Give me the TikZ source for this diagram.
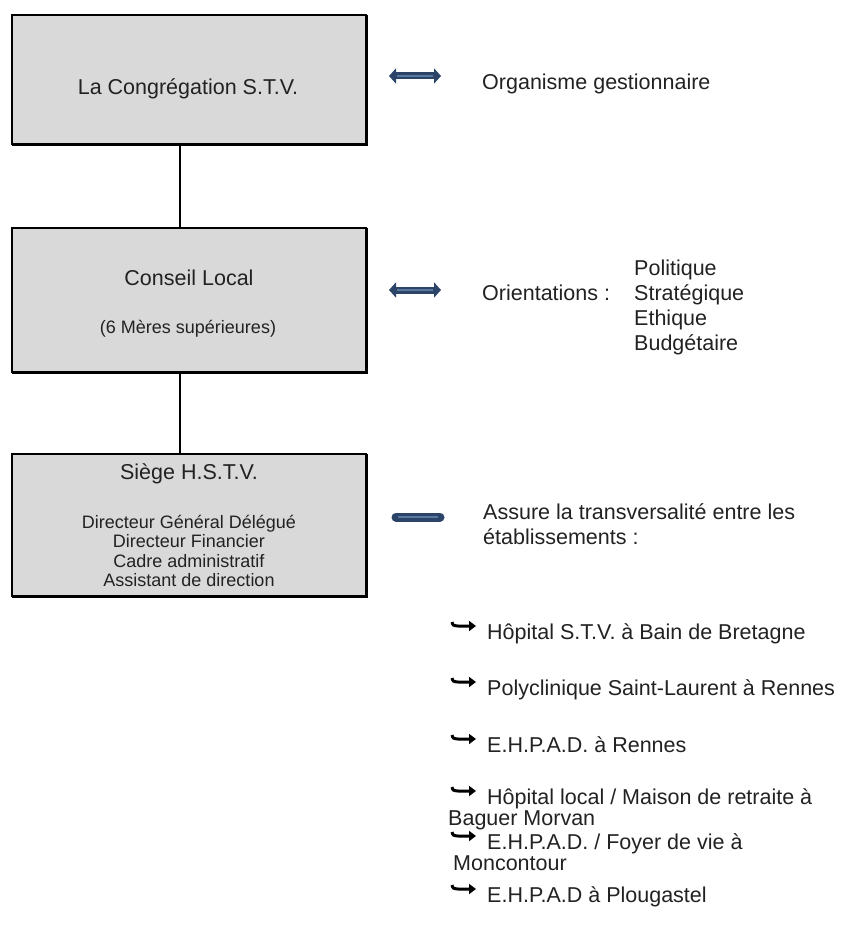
\documentclass[tikz,border=0pt]{standalone}
\usepackage{fontspec}
\setmainfont{Liberation Sans}
\usetikzlibrary{arrows.meta}
\definecolor{boxgray}{HTML}{D9D9D9}
\definecolor{arrblue}{HTML}{2B4468}
\definecolor{arrlight}{HTML}{5A79A0}
\definecolor{txtc}{HTML}{222222}
\begin{document}
\begin{tikzpicture}[x=1pt,y=-1pt,
  boxst/.style={draw=black, line width=1.5pt, fill=boxgray, minimum width=354pt, inner sep=0pt},
  big/.style={font=\fontsize{21.5}{25}\selectfont, text=txtc, inner sep=0pt, text height=15pt, text depth=0pt},
  med/.style={font=\fontsize{18}{20}\selectfont, text=txtc, inner sep=0pt, text height=13pt, text depth=0pt},
  wlab/.style={big, anchor=west},
  link/.style={line width=1.3pt, black},
  shadowedge/.style={line width=3pt, black},
  dbl/.style={line width=7pt, arrblue, {Triangle[length=7pt,width=15pt]}-{Triangle[length=7pt,width=15pt]}},
  dblin/.style={line width=1.4pt, arrlight},
  barst/.style={line width=9pt, arrblue, line cap=round},
  hook/.style={line width=3pt, black, -{Triangle[length=7pt,width=10pt]}}
]
\useasboundingbox (0,0) rectangle (846,949);
\fill[white] (0,0) rectangle (846,949);

% boxes
\node[boxst, minimum height=129pt] (b1) at (189,79.5) {};
\node[boxst, minimum height=144pt] (b2) at (189,300) {};
\node[boxst, minimum height=142pt] (b3) at (189,525) {};
\foreach \b in {b1,b2,b3}{
  \draw[shadowedge] ([xshift=1pt]\b.south west) -| ([yshift=-1pt]\b.north east);
}

% box texts
\node[big] (t1) at (188,87) {La Congrégation S.T.V.};
\node[big] (t2) at (189,278) {Conseil Local};
\node[med] (t2b) at (188,327) {(6 Mères supérieures)};
\node[big] (t3) at (189,472) {Siège H.S.T.V.};
\node[med] (t3a) at (189,522) {Directeur Général Délégué};
\node[med] (t3b) at (189,541) {Directeur Financier};
\node[med] (t3c) at (189,561) {Cadre administratif};
\node[med] (t3d) at (189,580) {Assistant de direction};

% connectors
\coordinate (lx) at (180,0);
\draw[link] (b1.south -| lx) -- (b2.north -| lx);
\draw[link] (b2.south -| lx) -- (b3.north -| lx);

% double arrows
\coordinate (a1s) at (389,76); \coordinate (a1e) at (441,76);
\coordinate (a2s) at (389,290); \coordinate (a2e) at (441,290);
\coordinate (a3s) at (396,517); \coordinate (a3e) at (440,517);
\draw[dbl] (a1s) -- (a1e);
\draw[dblin] ([xshift=8pt]a1s) -- ([xshift=-8pt]a1e);
\draw[dbl] (a2s) -- (a2e);
\draw[dblin] ([xshift=8pt]a2s) -- ([xshift=-8pt]a2e);
\draw[barst] (a3s) -- (a3e);
\draw[dblin] ([xshift=2pt]a3s) -- ([xshift=-2pt]a3e);

% right texts
\node[wlab] (org) at (482,82) {Organisme gestionnaire};
\node[wlab] (ori) at (482,293) {Orientations :};
\node[wlab] (o1) at (634,268) {Politique};
\node[wlab] (o2) at (634,293) {Stratégique};
\node[wlab] (o3) at (634,318) {Ethique};
\node[wlab] (o4) at (634,343) {Budgétaire};
\node[wlab] (as1) at (483,512) {Assure la transversalité entre les};
\node[wlab] (as2) at (483,537) {établissements :};

% list
\foreach \y/\nm in {632/h1,688/h2,745/h3,797/h4,842/h5,895/h6}{
  \coordinate (\nm s) at (452,\y-10);
  \coordinate (\nm e) at (476,\y-6);
  \draw[hook] (\nm s) .. controls (453,\y-6.5) .. (458,\y-6) -- (\nm e);
}
\node[wlab] (l1) at (487,632) {Hôpital S.T.V. à Bain de Bretagne};
\node[wlab] (l2) at (487,688) {Polyclinique Saint-Laurent à Rennes};
\node[wlab] (l3) at (487,745) {E.H.P.A.D. à Rennes};
\node[wlab] (l4) at (487,797) {Hôpital local / Maison de retraite à};
\node[wlab] (l4b) at (448,818) {Baguer Morvan};
\node[wlab] (l5) at (487,842) {E.H.P.A.D. / Foyer de vie à};
\node[wlab] (l5b) at (453,863) {Moncontour};
\node[wlab] (l6) at (487,895) {E.H.P.A.D à Plougastel};
\end{tikzpicture}
\end{document}
